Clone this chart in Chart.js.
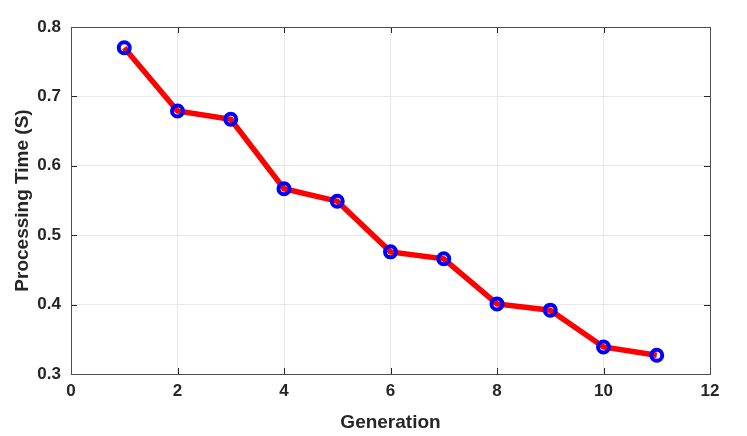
<!DOCTYPE html>
<html>
<head>
<meta charset="utf-8">
<script src="https://cdn.jsdelivr.net/npm/chart.js@4.4.1/dist/chart.umd.min.js"></script>
<style>
  html, body { margin: 0; padding: 0; background: #fff; }
  #wrap { width: 747px; height: 436px; }
</style>
</head>
<body>
<div id="wrap"><canvas id="graf"></canvas></div>
<script>
const generace = [1, 2, 3, 4, 5, 6, 7, 8, 9, 10, 11];
const casZpracovani = [0.770, 0.679, 0.667, 0.567, 0.549, 0.476, 0.466, 0.401, 0.392, 0.339, 0.327];
const xTicky = [0, 2, 4, 6, 8, 10, 12];
const yTicky = [0.3, 0.4, 0.5, 0.6, 0.7, 0.8];

// ramecek kolem grafu + ticky dovnitr (jako v MATLABu)
const ramecek = {
    id: 'ramecek',
    afterDraw(chart) {
        const { ctx, chartArea: a, scales } = chart;
        ctx.save();
        ctx.strokeStyle = '#262626';
        ctx.lineWidth = 1;
        ctx.beginPath();
        xTicky.forEach(v => {
            const x = Math.round(scales.x.getPixelForValue(v)) + 0.5;
            ctx.moveTo(x, a.bottom); ctx.lineTo(x, a.bottom - 6);
            ctx.moveTo(x, a.top); ctx.lineTo(x, a.top + 6);
        });
        yTicky.forEach(v => {
            const y = Math.round(scales.y.getPixelForValue(v)) + 0.5;
            ctx.moveTo(a.left, y); ctx.lineTo(a.left + 6, y);
            ctx.moveTo(a.right, y); ctx.lineTo(a.right - 6, y);
        });
        ctx.stroke();
        ctx.strokeStyle = '#4d4d4d';
        ctx.strokeRect(Math.round(a.left) + 0.5, Math.round(a.top) + 0.5,
            Math.round(a.right - a.left), Math.round(a.bottom - a.top));
        ctx.restore();
    }
};

const ctx = document.getElementById('graf').getContext('2d');
new Chart(ctx, {
    type: 'line',
    data: {
        datasets: [{
            data: generace.map((g, i) => ({ x: g, y: casZpracovani[i] })),
            borderColor: '#ff0000',
            borderWidth: 5.5,
            pointRadius: 5.5,
            pointBorderWidth: 4,
            pointBorderColor: '#0000ff',
            pointBackgroundColor: 'rgba(0,0,0,0)',
            tension: 0
        }]
    },
    plugins: [ramecek],
    options: {
        responsive: true,
        maintainAspectRatio: false,
        animation: false,
        layout: { padding: { top: 27, right: 37, left: 0, bottom: 0 } },
        plugins: { legend: { display: false }, tooltip: { enabled: false } },
        scales: {
            x: {
                type: 'linear',
                min: 0, max: 12,
                afterBuildTicks: s => { s.ticks = xTicky.map(v => ({ value: v })); },
                afterFit: s => { s.height = 62; },
                grid: { color: '#e8e8e8', drawTicks: false },
                border: { display: false },
                ticks: {
                    color: '#262626',
                    padding: 7,
                    font: { family: 'Liberation Sans', size: 17, weight: 'bold' }
                },
                title: {
                    display: true,
                    text: 'Generation',
                    color: '#262626',
                    padding: { top: 0, bottom: 2 },
                    font: { family: 'Liberation Sans', size: 19, weight: 'bold' }
                }
            },
            y: {
                min: 0.3, max: 0.8,
                afterBuildTicks: s => { s.ticks = yTicky.map(v => ({ value: v })); },
                afterFit: s => { s.width = 71; },
                grid: { color: '#e8e8e8', drawTicks: false },
                border: { display: false },
                ticks: {
                    color: '#262626',
                    padding: 10,
                    callback: v => v.toFixed(1),
                    font: { family: 'Liberation Sans', size: 17, weight: 'bold' }
                },
                title: {
                    display: true,
                    text: 'Processing Time (S)',
                    color: '#262626',
                    padding: { top: 11, bottom: 0 },
                    font: { family: 'Liberation Sans', size: 19, weight: 'bold' }
                }
            }
        }
    }
});
</script>
</body>
</html>
